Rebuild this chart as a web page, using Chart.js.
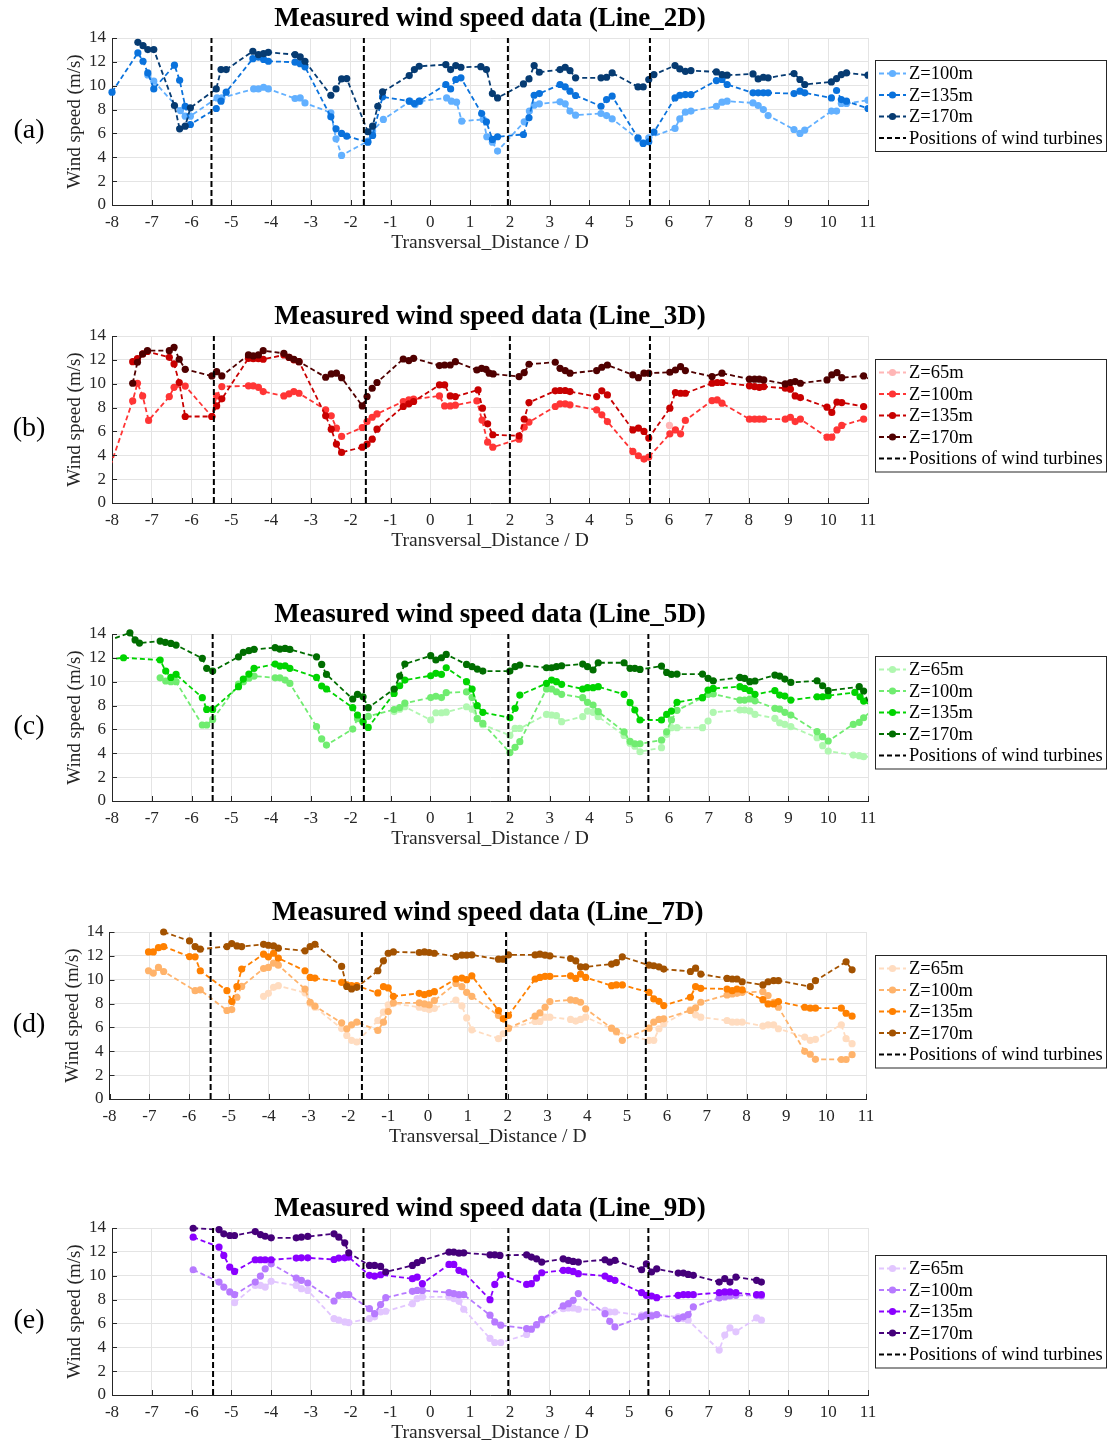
<!DOCTYPE html>
<html>
<head>
<meta charset="utf-8">
<script src="https://cdn.jsdelivr.net/npm/chart.js@4.4.1/dist/chart.umd.min.js"></script>
<style>
  body { margin: 0; background: #fff; width: 1110px; height: 1447px; position: relative; overflow: hidden; }
  .panel { position: absolute; left: 0; width: 1110px; height: 255px; }
</style>
</head>
<body>
<div class="panel" style="top:0"><canvas id="c0" width="1110" height="255"></canvas></div>
<div class="panel" style="top:298px"><canvas id="c1" width="1110" height="255"></canvas></div>
<div class="panel" style="top:596px"><canvas id="c2" width="1110" height="255"></canvas></div>
<div class="panel" style="top:894px"><canvas id="c3" width="1110" height="255"></canvas></div>
<div class="panel" style="top:1190px"><canvas id="c4" width="1110" height="255"></canvas></div>
<script>
// measured wind speed, [distance / D, speed m/s]

// Line_2D
const a100 = [[-7.1,10.9],[-6.95,10.38],[-6.28,7.92],[-6.16,7.45],[-6.03,7.45],[-5.36,8.98],[-5.24,8.98],[-4.44,9.73],[-4.32,9.73],[-4.19,9.87],[-4.07,9.73],[-3.4,8.93],[-3.27,8.98],[-3.15,8.56],[-2.5,7.73],[-2.37,5.55],[-2.23,4.16],[-1.57,5.35],[-1.45,6.2],[-1.18,7.17],[-0.51,8.7],[-0.38,8.42],[-0.26,8.7],[0.41,8.98],[0.53,8.7],[0.66,8.62],[0.79,7.03],[1.33,7.17],[1.42,5.72],[1.56,5.27],[1.69,4.52],[2.36,6.97],[2.49,7.87],[2.61,8.37],[2.74,8.48],[3.26,8.65],[3.39,8.48],[3.51,7.87],[3.65,7.53],[4.29,7.67],[4.43,7.5],[4.57,7.22],[5.22,5.55],[5.35,5.22],[5.49,5.63],[6.15,6.42],[6.27,7.22],[6.41,7.78],[6.55,7.87],[7.19,8.28],[7.33,8.62],[7.46,8.7],[8.11,8.56],[8.24,8.34],[8.37,8.0],[8.49,7.5],[9.14,6.33],[9.29,6.0],[9.41,6.28],[10.08,7.87],[10.21,7.87],[10.33,8.51],[10.46,8.51],[11.0,8.79]];
const a135 = [[-8,9.46],[-7.35,12.75],[-7.22,12.05],[-7.1,11.07],[-6.95,9.73],[-6.43,11.72],[-6.3,10.46],[-6.16,8.28],[-6.03,6.75],[-5.38,8.09],[-5.26,8.7],[-5.13,9.46],[-4.46,12.27],[-4.32,12.4],[-4.19,12.2],[-4.07,12.05],[-3.4,11.97],[-3.27,11.85],[-3.15,11.58],[-2.5,7.39],[-2.37,6.39],[-2.23,6.0],[-2.1,5.77],[-1.57,5.27],[-1.45,5.83],[-1.2,9.07],[-0.53,8.7],[-0.4,8.51],[-0.28,8.7],[0.39,10.1],[0.51,9.73],[0.64,10.52],[0.77,10.66],[1.29,7.67],[1.41,6.97],[1.56,5.5],[1.69,5.72],[2.34,5.91],[2.48,7.31],[2.61,9.2],[2.74,9.34],[3.26,10.1],[3.39,9.9],[3.51,9.54],[3.65,9.18],[4.29,8.28],[4.43,8.84],[4.57,9.12],[5.22,5.63],[5.35,5.16],[5.49,5.3],[5.62,6.11],[6.15,8.98],[6.27,9.2],[6.41,9.26],[6.55,9.26],[7.19,10.43],[7.33,10.52],[7.46,10.1],[8.11,9.4],[8.24,9.4],[8.37,9.4],[8.49,9.4],[9.14,9.34],[9.29,9.54],[9.41,9.4],[10.08,8.98],[10.21,9.6],[10.33,8.84],[10.46,8.7],[11.0,8.09]];
const a170 = [[-7.35,13.64],[-7.22,13.36],[-7.1,13.03],[-6.95,13.03],[-6.43,8.34],[-6.3,6.39],[-6.16,6.61],[-6.03,8.15],[-5.38,9.73],[-5.26,11.35],[-5.13,11.35],[-4.46,12.89],[-4.32,12.61],[-4.19,12.69],[-4.07,12.8],[-3.4,12.61],[-3.27,12.41],[-3.15,12.05],[-2.5,9.2],[-2.37,9.73],[-2.23,10.57],[-2.1,10.6],[-1.57,6.14],[-1.45,6.61],[-1.32,8.28],[-1.2,9.48],[-0.53,10.85],[-0.4,11.35],[-0.28,11.63],[0.39,11.77],[0.51,11.35],[0.64,11.69],[0.77,11.55],[1.27,11.6],[1.41,11.35],[1.56,9.34],[1.69,8.98],[2.34,10.15],[2.48,10.57],[2.61,11.69],[2.74,11.13],[3.26,11.35],[3.39,11.55],[3.51,11.27],[3.65,10.66],[4.29,10.66],[4.43,10.71],[4.57,11.07],[5.22,9.9],[5.35,9.9],[5.49,10.52],[5.62,10.93],[6.15,11.69],[6.27,11.41],[6.41,11.21],[6.55,11.27],[7.19,11.16],[7.33,10.93],[7.46,10.88],[8.11,10.99],[8.24,10.57],[8.37,10.71],[8.49,10.66],[9.14,11.02],[9.29,10.52],[9.41,10.1],[10.08,10.32],[10.21,10.6],[10.33,10.93],[10.46,11.07],[11.0,10.88]];
const turbA = [-5.5, -1.67, 1.95, 5.52];

// Line_3D
const b65 = [[6.01,6.5]];
const b100 = [[-8.3,0.6],[-7.48,8.56],[-7.36,10.04],[-7.23,8.98],[-7.08,6.92],[-6.56,8.92],[-6.44,9.7],[-6.16,9.8],[-5.49,7.25],[-5.37,8.98],[-5.24,9.76],[-4.57,9.82],[-4.45,9.82],[-4.32,9.7],[-4.2,9.34],[-3.68,8.98],[-3.55,9.15],[-3.43,9.34],[-3.3,9.2],[-2.63,7.81],[-2.49,7.31],[-2.36,6.27],[-2.23,5.58],[-1.71,6.33],[-1.59,6.83],[-1.46,7.19],[-1.34,7.47],[-0.68,8.51],[-0.54,8.64],[-0.42,8.7],[0.23,8.98],[0.36,8.14],[0.5,8.14],[0.63,8.2],[1.17,8.56],[1.3,6.95],[1.44,5.1],[1.57,4.68],[2.23,5.35],[2.36,6.36],[2.48,6.78],[3.14,8.09],[3.26,8.31],[3.39,8.31],[3.51,8.23],[4.18,7.81],[4.31,7.39],[4.45,6.83],[5.09,4.32],[5.23,3.96],[5.37,3.68],[5.49,3.85],[6.02,5.8],[6.16,6.13],[6.29,5.8],[6.41,6.92],[7.08,8.59],[7.21,8.64],[7.33,8.37],[8.02,7.03],[8.15,7.03],[8.27,7.03],[8.38,7.03],[8.92,7.03],[9.05,7.19],[9.17,6.83],[9.3,7.03],[9.97,5.52],[10.09,5.52],[10.22,6.13],[10.34,6.5],[10.89,7.03]];
const b135 = [[-7.48,11.85],[-7.36,12.1],[-7.23,12.5],[-7.11,12.7],[-6.56,12.21],[-6.44,11.66],[-6.31,10.1],[-6.16,7.25],[-5.49,7.25],[-5.37,8.14],[-5.24,8.73],[-4.57,12.13],[-4.45,12.1],[-4.32,12.1],[-4.2,12.05],[-3.68,12.41],[-3.55,12.2],[-3.43,12.0],[-3.3,11.85],[-2.63,7.31],[-2.49,6.19],[-2.36,4.94],[-2.23,4.24],[-1.71,4.68],[-1.59,4.94],[-1.46,5.35],[-1.34,6.19],[-0.68,8.09],[-0.54,8.31],[-0.42,8.51],[0.23,9.9],[0.36,9.9],[0.5,8.98],[0.63,8.92],[1.2,9.48],[1.31,7.95],[1.44,6.64],[1.57,5.72],[2.23,5.63],[2.36,7.03],[2.48,8.42],[3.14,9.4],[3.26,9.43],[3.39,9.43],[3.51,9.34],[4.18,8.92],[4.31,9.4],[4.45,9.06],[5.09,6.13],[5.23,6.27],[5.37,6.0],[5.49,5.44],[6.02,7.95],[6.16,9.26],[6.29,9.2],[6.41,9.2],[7.08,10.04],[7.21,10.1],[7.33,10.1],[8.02,9.82],[8.15,9.76],[8.27,9.7],[8.38,9.76],[8.92,9.62],[9.05,9.54],[9.17,8.98],[9.3,8.84],[9.97,8.03],[10.09,7.59],[10.22,8.45],[10.34,8.42],[10.89,8.09]];
const b170 = [[-7.48,10.04],[-7.36,11.8],[-7.23,12.49],[-7.11,12.77],[-6.56,12.77],[-6.44,13.05],[-6.31,12.05],[-6.16,11.21],[-5.49,10.65],[-5.37,11.01],[-5.24,10.65],[-4.57,12.41],[-4.45,12.33],[-4.32,12.41],[-4.2,12.77],[-3.68,12.55],[-3.55,12.21],[-3.43,12.05],[-3.3,11.85],[-2.63,10.54],[-2.49,10.82],[-2.36,10.88],[-2.23,10.51],[-1.71,8.14],[-1.59,8.92],[-1.46,9.62],[-1.34,10.1],[-0.68,12.07],[-0.54,11.94],[-0.42,12.13],[0.23,11.52],[0.36,11.57],[0.5,11.57],[0.63,11.85],[1.17,11.15],[1.29,11.29],[1.4,11.21],[1.48,10.88],[1.58,10.82],[2.23,10.6],[2.36,10.93],[2.48,11.63],[3.14,11.8],[3.26,11.29],[3.39,11.1],[3.51,10.88],[4.18,11.1],[4.31,11.38],[4.45,11.57],[5.09,10.74],[5.23,10.51],[5.37,10.88],[5.49,10.88],[6.02,10.96],[6.16,11.15],[6.29,11.43],[6.41,11.1],[7.08,10.6],[7.33,10.88],[8.02,10.38],[8.15,10.38],[8.27,10.38],[8.38,10.32],[8.92,9.98],[9.05,10.1],[9.17,10.18],[9.3,10.04],[9.97,10.32],[10.09,10.74],[10.22,10.93],[10.34,10.51],[10.89,10.65],[11.1,10.3]];
const turbB = [-5.44, -1.62, 2.0, 5.52];

// Line_5D
const c65 = [[-0.91,7.5],[-0.77,7.7],[-0.64,7.9],[0.01,6.79],[0.14,7.4],[0.28,7.4],[0.4,7.45],[0.91,7.9],[1.05,7.7],[1.18,6.9],[1.32,6.4],[2.0,5.5],[2.13,6.08],[2.25,6.08],[2.92,7.26],[3.05,7.21],[3.17,7.15],[3.3,6.65],[3.83,7.07],[3.95,7.54],[4.09,7.43],[4.22,7.07],[4.87,5.5],[5.02,4.85],[5.14,4.6],[5.27,4.13],[5.81,4.47],[5.94,5.59],[6.06,6.15],[6.2,6.15],[6.84,6.15],[6.98,6.7],[7.11,7.43],[7.78,7.63],[7.9,7.63],[8.03,7.55],[8.16,7.26],[8.66,6.93],[8.78,6.56],[8.91,6.42],[9.06,6.23],[9.72,5.31],[9.86,4.64],[10.0,4.19],[10.63,3.85],[10.78,3.8],[10.89,3.72],[11.1,3.7]];
const c100 = [[-6.79,10.33],[-6.65,10.06],[-6.52,10.0],[-6.39,10.0],[-5.73,6.37],[-5.62,6.37],[-5.47,6.84],[-4.82,9.8],[-4.7,10.0],[-4.56,10.3],[-4.43,10.47],[-3.9,10.33],[-3.78,10.33],[-3.65,10.14],[-3.53,9.86],[-2.86,6.23],[-2.73,5.2],[-2.61,4.69],[-1.95,6.03],[-1.83,6.9],[-1.69,6.6],[-1.56,7.1],[-0.91,7.67],[-0.77,7.83],[-0.64,8.2],[0.01,8.67],[0.14,8.78],[0.28,8.67],[0.4,9.08],[0.91,9.14],[1.05,8.67],[1.18,6.9],[1.32,6.5],[2.0,4.06],[2.13,4.5],[2.25,4.97],[2.92,9.39],[3.05,9.39],[3.17,9.16],[3.3,8.94],[3.83,8.66],[3.95,8.27],[4.09,8.04],[4.22,7.49],[4.87,5.8],[5.02,5.0],[5.14,4.8],[5.27,4.8],[5.81,5.1],[5.94,5.8],[6.06,6.8],[6.2,7.6],[6.84,8.66],[6.98,8.94],[7.11,8.97],[7.78,8.46],[7.9,8.46],[8.03,8.55],[8.16,8.4],[8.66,7.77],[8.78,7.71],[8.91,7.43],[9.06,7.2],[9.72,5.81],[9.86,5.39],[10.0,5.03],[10.63,6.42],[10.78,6.59],[10.89,6.98],[11.1,7.6]];
const c135 = [[-8.3,11.8],[-7.71,12.01],[-6.79,11.82],[-6.65,10.89],[-6.52,10.36],[-6.39,10.61],[-5.73,8.66],[-5.62,7.68],[-5.47,7.68],[-4.82,9.58],[-4.7,10.22],[-4.56,10.64],[-4.43,11.12],[-3.9,11.48],[-3.78,11.31],[-3.65,11.34],[-3.53,11.12],[-2.86,10.36],[-2.73,9.64],[-2.61,9.39],[-1.95,7.82],[-1.83,7.21],[-1.69,6.65],[-1.56,6.17],[-0.91,9.02],[-0.77,9.66],[-0.64,10.14],[0.01,10.5],[0.14,10.7],[0.28,10.61],[0.4,11.17],[0.91,10.0],[1.05,9.39],[1.18,7.99],[1.32,7.43],[2.0,6.98],[2.13,7.77],[2.25,8.88],[2.92,9.86],[3.05,10.14],[3.17,10.0],[3.3,9.78],[3.83,9.39],[3.95,9.5],[4.09,9.5],[4.22,9.58],[4.87,8.94],[5.02,8.24],[5.14,7.63],[5.27,6.79],[5.81,6.79],[5.94,7.26],[6.06,7.54],[6.2,8.27],[6.84,8.66],[6.98,9.3],[7.11,9.44],[7.78,9.58],[7.9,9.44],[8.03,9.25],[8.16,8.94],[8.66,9.25],[8.78,8.88],[8.91,8.8],[9.06,8.46],[9.72,8.74],[9.86,8.74],[10.0,8.83],[10.67,9.1],[10.8,8.74],[10.89,8.38],[11.1,8.0]];
const c170 = [[-8.3,13.2],[-7.55,14.1],[-7.42,13.5],[-7.31,13.24],[-6.79,13.41],[-6.66,13.3],[-6.52,13.21],[-6.39,13.07],[-5.73,11.96],[-5.62,11.12],[-5.47,10.89],[-4.82,12.09],[-4.7,12.46],[-4.56,12.6],[-4.43,12.71],[-3.9,12.85],[-3.78,12.74],[-3.65,12.79],[-3.53,12.71],[-2.86,12.09],[-2.73,11.45],[-2.61,10.61],[-1.95,8.55],[-1.83,8.94],[-1.69,8.74],[-1.56,7.82],[-0.91,9.39],[-0.77,10.47],[-0.64,11.48],[0.01,12.18],[0.14,11.82],[0.28,12.01],[0.4,12.29],[0.91,11.45],[1.05,11.26],[1.18,11.06],[1.32,10.89],[2.0,10.89],[2.13,11.26],[2.25,11.4],[2.92,11.17],[3.05,11.17],[3.17,11.26],[3.3,11.34],[3.83,11.48],[3.95,11.26],[4.09,10.98],[4.22,11.59],[4.87,11.59],[5.02,11.12],[5.14,11.12],[5.27,11.03],[5.81,11.31],[5.94,10.78],[6.06,10.61],[6.2,10.64],[6.84,10.64],[6.98,10.28],[7.11,10.08],[7.78,10.36],[7.9,10.28],[8.03,10.0],[8.16,10.06],[8.66,10.56],[8.78,10.47],[8.91,10.22],[9.06,9.94],[9.72,10.08],[9.86,9.66],[10.0,9.25],[10.78,9.58],[10.89,9.22],[11.1,7.5]];
const turbC = [-5.47, -1.67, 1.96, 5.48];

// Line_7D
const d65 = [[-4.13,8.61],[-4.01,8.86],[-3.88,9.36],[-3.76,9.5],[-3.09,8.9],[-2.96,8.0],[-2.84,7.7],[-2.17,5.9],[-2.04,5.33],[-1.92,4.92],[-1.79,4.78],[-1.26,6.58],[-1.12,7.28],[-1.0,7.9],[-0.87,8.0],[-0.22,7.7],[-0.09,7.6],[0.03,7.5],[0.16,7.6],[0.7,8.3],[0.85,7.8],[0.97,6.8],[1.1,5.8],[1.77,5.06],[1.89,5.47],[2.02,5.89],[2.69,6.5],[2.81,6.5],[2.94,6.86],[3.06,6.86],[3.58,6.67],[3.71,6.53],[3.83,6.67],[3.96,6.86],[4.61,5.9],[4.73,5.6],[5.55,4.92],[5.67,4.92],[5.8,5.89],[5.92,6.31],[6.59,7.5],[6.72,7.06],[6.85,6.86],[7.51,6.58],[7.64,6.44],[7.76,6.44],[7.89,6.44],[8.41,6.11],[8.54,6.22],[8.68,6.22],[8.8,5.89],[9.46,5.19],[9.6,4.92],[9.73,5.0],[10.38,6.22],[10.5,5.06],[10.65,4.64]];
const d100 = [[-7.02,10.75],[-6.9,10.56],[-6.77,11.03],[-6.64,10.69],[-5.85,9.08],[-5.72,9.14],[-5.05,7.42],[-4.93,7.5],[-4.8,8.53],[-4.68,9.44],[-4.13,10.94],[-4.01,11.03],[-3.88,11.39],[-3.76,11.22],[-3.09,9.22],[-2.96,8.11],[-2.84,7.78],[-2.17,6.39],[-2.04,5.89],[-1.92,6.22],[-1.79,6.44],[-1.26,5.75],[-1.12,6.44],[-1.0,7.33],[-0.87,8.06],[-0.22,8.06],[-0.09,7.97],[0.03,7.89],[0.16,8.25],[0.7,9.69],[0.85,9.42],[0.97,8.94],[1.1,8.61],[1.77,7.0],[1.89,6.72],[2.02,5.94],[2.69,6.94],[2.81,7.22],[2.94,7.69],[3.06,8.17],[3.58,8.31],[3.71,8.25],[3.83,8.11],[3.96,7.56],[4.61,5.94],[4.73,5.67],[4.88,4.92],[5.55,5.94],[5.67,6.44],[5.8,6.67],[5.92,6.72],[6.59,7.42],[6.72,7.64],[6.85,8.11],[7.51,8.72],[7.64,8.81],[7.76,8.86],[7.89,8.94],[8.41,9.0],[8.54,8.67],[8.68,8.11],[8.8,7.69],[9.46,4.0],[9.6,3.75],[9.73,3.33],[10.38,3.31],[10.5,3.31],[10.65,3.72]];
const d135 = [[-7.02,12.33],[-6.9,12.33],[-6.77,12.69],[-6.64,12.78],[-5.99,11.94],[-5.85,11.92],[-5.72,10.75],[-5.05,9.08],[-4.93,8.17],[-4.8,9.42],[-4.68,10.89],[-4.13,12.14],[-4.01,11.92],[-3.88,12.22],[-3.76,11.81],[-3.09,10.75],[-2.96,10.19],[-2.84,10.14],[-2.17,9.78],[-2.04,9.56],[-1.92,9.5],[-1.79,9.5],[-1.26,8.89],[-1.12,9.42],[-1.0,9.31],[-0.87,8.61],[-0.22,8.86],[-0.09,8.75],[0.03,8.86],[0.16,9.0],[0.7,10.06],[0.85,10.14],[0.97,10.0],[1.1,10.33],[1.77,7.42],[1.89,6.72],[2.02,7.0],[2.69,10.06],[2.81,10.19],[2.94,10.28],[3.06,10.28],[3.58,10.33],[3.71,10.11],[3.83,10.47],[3.96,10.19],[4.61,9.5],[4.73,9.56],[4.88,9.56],[5.55,8.94],[5.67,8.39],[5.8,8.19],[5.92,7.83],[6.59,8.53],[6.72,9.42],[6.85,9.28],[7.51,9.22],[7.64,9.08],[7.76,9.22],[7.89,9.14],[8.41,8.33],[8.54,7.97],[8.68,7.97],[8.8,8.17],[9.46,7.69],[9.6,7.61],[9.73,7.61],[10.38,7.61],[10.5,7.19],[10.65,6.94]];
const d170 = [[-6.64,14.0],[-5.99,13.25],[-5.85,12.78],[-5.72,12.56],[-5.05,12.78],[-4.93,13.03],[-4.8,12.83],[-4.68,12.78],[-4.13,12.97],[-4.01,12.89],[-3.88,12.83],[-3.76,12.64],[-3.09,12.42],[-2.96,12.78],[-2.84,12.97],[-2.17,11.11],[-2.04,9.44],[-1.92,9.22],[-1.79,9.36],[-1.26,10.75],[-1.12,11.58],[-1.0,12.22],[-0.87,12.33],[-0.22,12.28],[-0.09,12.33],[0.03,12.28],[0.16,12.22],[0.7,11.94],[0.85,12.06],[0.97,12.06],[1.1,12.08],[1.77,11.72],[1.89,11.72],[2.02,12.08],[2.69,12.08],[2.81,12.14],[2.94,12.06],[3.06,12.0],[3.58,11.78],[3.71,11.58],[3.83,11.08],[3.96,11.08],[4.61,11.31],[4.73,11.44],[4.88,11.92],[5.55,11.22],[5.67,11.17],[5.8,11.08],[5.92,10.89],[6.59,10.69],[6.72,10.97],[6.85,10.47],[7.51,10.11],[7.64,10.06],[7.76,10.06],[7.89,9.83],[8.41,9.56],[8.54,9.83],[8.68,9.92],[8.8,9.92],[9.6,9.42],[9.73,9.92],[10.5,11.5],[10.65,10.83]];
const turbD = [-5.46, -1.66, 1.96, 5.47];

// Line_9D
const e65 = [[-4.92,7.74],[-4.4,9.19],[-4.27,9.19],[-4.15,9.05],[-4.0,9.53],[-3.37,9.19],[-3.24,8.91],[-3.08,8.77],[-2.42,6.41],[-2.3,6.27],[-2.15,6.13],[-2.05,6.07],[-1.53,6.41],[-1.4,6.55],[-1.25,6.96],[-1.12,7.02],[-0.45,7.66],[-0.33,8.08],[-0.2,8.22],[0.47,8.22],[0.59,8.08],[0.72,7.85],[0.84,7.19],[1.5,4.74],[1.62,4.4],[1.77,4.4],[2.42,5.07],[2.67,5.85],[2.8,6.27],[3.34,7.24],[3.47,7.3],[3.59,7.3],[3.72,7.19],[4.39,7.1],[4.51,6.96],[4.64,6.96],[5.31,6.69],[5.43,6.74],[5.56,6.69],[5.69,6.74],[6.23,6.55],[6.36,6.41],[6.48,6.27],[7.26,3.77],[7.4,5.02],[7.53,5.63],[7.68,5.3],[8.2,6.46],[8.32,6.27]];
const e100 = [[-5.96,10.5],[-5.31,9.47],[-5.19,9.05],[-5.04,8.64],[-4.92,8.41],[-4.4,9.47],[-4.27,9.97],[-4.15,10.58],[-4.0,11.0],[-3.37,9.8],[-3.24,9.61],[-3.08,9.39],[-2.42,7.88],[-2.3,8.36],[-2.15,8.41],[-2.05,8.41],[-1.53,7.24],[-1.4,6.82],[-1.25,7.58],[-1.12,8.16],[-0.45,8.69],[-0.33,8.77],[-0.2,8.77],[0.47,8.58],[0.59,8.5],[0.72,8.41],[0.84,8.41],[1.5,6.69],[1.62,6.13],[1.77,5.85],[2.42,5.57],[2.54,5.52],[2.67,5.91],[2.8,6.35],[3.34,7.47],[3.47,7.66],[3.59,7.94],[3.72,8.5],[4.39,6.82],[4.51,6.18],[4.64,5.71],[5.31,6.55],[5.43,6.69],[5.56,6.63],[5.69,6.74],[6.23,6.41],[6.36,6.55],[6.48,6.74],[6.61,7.38],[7.26,8.13],[7.4,8.22],[7.53,8.3],[7.68,8.36],[8.2,8.36],[8.32,8.3]];
const e135 = [[-5.96,13.23],[-5.31,12.4],[-5.19,11.7],[-5.04,10.72],[-4.92,10.36],[-4.4,11.34],[-4.27,11.34],[-4.15,11.34],[-4.0,11.34],[-3.37,11.48],[-3.24,11.5],[-3.08,11.5],[-2.42,11.36],[-2.3,11.48],[-2.15,11.5],[-2.05,11.56],[-1.53,10.03],[-1.4,9.97],[-1.25,10.08],[-0.45,9.75],[-0.33,9.89],[-0.2,9.33],[0.47,10.95],[0.59,10.95],[0.72,10.45],[0.84,10.31],[1.5,7.99],[1.62,9.27],[1.77,10.08],[2.42,9.27],[2.54,9.33],[2.67,9.8],[2.8,10.25],[3.34,10.45],[3.47,10.45],[3.59,10.36],[3.72,10.17],[4.39,9.97],[4.51,9.75],[4.64,9.61],[5.31,8.58],[5.43,8.36],[5.56,8.3],[5.69,8.16],[6.23,8.36],[6.36,8.41],[6.48,8.41],[6.61,8.41],[7.26,8.58],[7.4,8.64],[7.53,8.64],[7.68,8.58],[8.2,8.41],[8.32,8.41]];
const e170 = [[-5.96,13.98],[-5.31,13.87],[-5.19,13.51],[-5.04,13.37],[-4.92,13.37],[-4.4,13.7],[-4.27,13.45],[-4.15,13.31],[-4.0,13.18],[-3.37,13.18],[-3.24,13.23],[-3.08,13.29],[-2.42,13.51],[-2.3,13.23],[-2.15,12.76],[-2.05,11.92],[-1.53,10.86],[-1.4,10.86],[-1.25,10.78],[-1.12,10.31],[-0.45,10.86],[-0.33,11.09],[-0.2,11.28],[0.47,11.98],[0.59,11.98],[0.72,11.89],[0.84,11.92],[1.5,11.75],[1.62,11.75],[1.75,11.7],[2.42,11.75],[2.54,11.56],[2.67,11.42],[2.8,11.14],[3.34,11.42],[3.47,11.28],[3.59,11.2],[3.72,11.14],[4.39,11.34],[4.51,11.14],[4.64,11.28],[5.31,10.5],[5.43,11.0],[5.56,10.31],[5.69,10.58],[6.23,10.22],[6.36,10.22],[6.48,10.11],[6.61,10.03],[7.26,9.47],[7.4,9.75],[7.53,9.47],[7.68,9.89],[8.2,9.61],[8.32,9.47]];
const turbE = [-5.46, -1.68, 1.96, 5.48];

const titles = ['Measured wind speed data (Line_2D)', 'Measured wind speed data (Line_3D)', 'Measured wind speed data (Line_5D)', 'Measured wind speed data (Line_7D)', 'Measured wind speed data (Line_9D)'];
const letters = ['(a)', '(b)', '(c)', '(d)', '(e)'];
const heightLabels = ['Z=65m', 'Z=100m', 'Z=135m', 'Z=170m'];
const turbineLabel = 'Positions of wind turbines';
const xLabel = 'Transversal_Distance / D';
const yLabel = 'Wind speed (m/s)';

const SERIF = '"Liberation Serif", "Times New Roman", serif';
const INK = '#262626';

const panels = [
  { id: 'c0', left: 112, right: 868, legendTop: 60, labels: heightLabels.slice(1),
    colors: ['#62b0ff', '#0a72dc', '#063b72'], data: [a100, a135, a170], turbines: turbA },
  { id: 'c1', left: 112, right: 868, legendTop: 61, labels: heightLabels,
    colors: ['#ffb6b6', '#ff3535', '#c80000', '#500000'], data: [b65, b100, b135, b170], turbines: turbB },
  { id: 'c2', left: 112, right: 868, legendTop: 60, labels: heightLabels,
    colors: ['#b0f7b0', '#70ec70', '#00d400', '#006e00'], data: [c65, c100, c135, c170], turbines: turbC },
  { id: 'c3', left: 109.5, right: 866, legendTop: 61, labels: heightLabels,
    colors: ['#ffdcc0', '#ffb36b', '#ff8000', '#a35200'], data: [d65, d100, d135, d170], turbines: turbD },
  { id: 'c4', left: 112, right: 868, legendTop: 65, labels: heightLabels,
    colors: ['#e2c6ff', '#b77aff', '#8a00ff', '#45007a'], data: [e65, e100, e135, e170], turbines: turbE }
];

// inner ticks, panel letter and boxed legend
const decor = {
  id: 'decor',
  afterDraw(chart, args, opts) {
    const { ctx, chartArea: a, scales: { x, y } } = chart;
    ctx.save();
    ctx.strokeStyle = INK;
    ctx.lineWidth = 1;
    ctx.beginPath();
    x.ticks.forEach(t => {
      const px = Math.round(x.getPixelForValue(t.value)) + 0.5;
      ctx.moveTo(px, a.bottom); ctx.lineTo(px, a.bottom - 5);
    });
    y.ticks.forEach(t => {
      const py = Math.round(y.getPixelForValue(t.value)) + 0.5;
      ctx.moveTo(a.left, py); ctx.lineTo(a.left + 5, py);
    });
    ctx.stroke();

    ctx.fillStyle = '#000';
    ctx.font = '28px ' + SERIF;
    ctx.textAlign = 'center';
    ctx.textBaseline = 'middle';
    ctx.fillText(opts.letter, 29, 131);

    const items = opts.labels.map((l, i) => ({ label: l, color: opts.colors[i], dot: true }));
    items.push({ label: turbineLabel, color: '#000', dot: false });
    const bx = 875.5, bw = 231, row = 21.5;
    const by = opts.legendTop + 0.5, bh = items.length * row + 5;
    ctx.fillStyle = '#fff';
    ctx.fillRect(bx, by, bw, bh);
    ctx.strokeStyle = INK;
    ctx.strokeRect(bx, by, bw, bh);
    ctx.font = '18.5px ' + SERIF;
    ctx.textAlign = 'left';
    items.forEach((it, i) => {
      const cy = by + 13 + i * row;
      ctx.strokeStyle = it.color;
      ctx.lineWidth = it.dot ? 1.8 : 2;
      ctx.setLineDash([5, 3]);
      ctx.beginPath();
      ctx.moveTo(879, cy); ctx.lineTo(906, cy);
      ctx.stroke();
      ctx.setLineDash([]);
      if (it.dot) {
        ctx.fillStyle = it.color;
        ctx.beginPath();
        ctx.arc(892.5, cy, 3.6, 0, Math.PI * 2);
        ctx.fill();
      }
      ctx.fillStyle = '#000';
      ctx.fillText(it.label, 909, cy + 1);
    });
    ctx.restore();
  }
};

function makeChart(p, idx) {
  const datasets = [];
  p.turbines.forEach(t => datasets.push({
    data: [{ x: t, y: 0 }, { x: t, y: 14 }],
    borderColor: '#000', borderWidth: 2, borderDash: [6, 3],
    pointRadius: 0, order: 0
  }));
  p.data.forEach((s, i) => datasets.push({
    label: p.labels[i],
    data: s.map(([x, y]) => ({ x, y })),
    borderColor: p.colors[i], backgroundColor: p.colors[i],
    borderWidth: 1.8, borderDash: [5, 3],
    pointRadius: 3.6, pointBorderWidth: 0, pointHoverRadius: 3.6,
    tension: 0, order: 10 - i,
    // series that run in from outside the axis are cut at the axis line
    clip: { left: s[0][0] < -8 ? 0 : 6, right: 0, top: 6, bottom: 0 }
  }));

  new Chart(document.getElementById(p.id), {
    type: 'line',
    data: { datasets },
    plugins: [decor],
    options: {
      responsive: false,
      animation: false,
      devicePixelRatio: 1,
      layout: { padding: { left: p.left - 48, right: 1110 - p.right, top: 0, bottom: 0 } },
      plugins: {
        legend: { display: false },
        tooltip: { enabled: false },
        title: {
          display: true, text: titles[idx], fullSize: false, color: '#000',
          font: { family: SERIF, size: 27, weight: 'bold' },
          padding: { top: 3, bottom: 2.6 }
        },
        decor: { letter: letters[idx], labels: p.labels, colors: p.colors, legendTop: p.legendTop }
      },
      scales: {
        x: {
          type: 'linear', min: -8, max: 11,
          ticks: { stepSize: 1, autoSkip: false, maxRotation: 0, padding: 7, color: INK, font: { family: SERIF, size: 17 } },
          grid: { color: '#e4e4e4', drawTicks: false },
          border: { color: INK, width: 1 },
          title: { display: true, text: xLabel, color: INK, padding: 0, font: { family: SERIF, size: 19.5 } },
          afterFit(s) { s.height = 50; }
        },
        y: {
          min: 0, max: 14,
          ticks: { stepSize: 2, padding: 6, color: INK, font: { family: SERIF, size: 17 } },
          grid: { color: '#e4e4e4', drawTicks: false },
          border: { color: INK, width: 1 },
          title: { display: true, text: yLabel, color: INK, padding: 0, font: { family: SERIF, size: 19 } },
          afterFit(s) { s.width = 48; }
        }
      }
    }
  });
}

panels.forEach(makeChart);
</script>
</body>
</html>
